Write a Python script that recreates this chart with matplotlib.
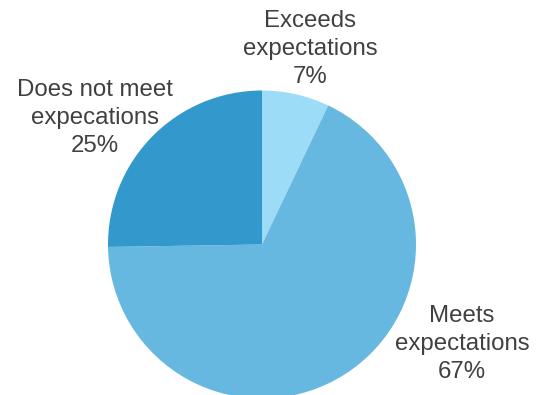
import matplotlib
matplotlib.use("Agg")
import matplotlib.pyplot as plt

labels = ["Exceeds\nexpectations", "Meets\nexpectations", "Does not meet\nexpecations"]
values = [7, 67, 25]
colors = ["#9ddcf7", "#66b8e0", "#3399cc"]

plt.rcParams["font.family"] = ["Liberation Sans", "DejaVu Sans"]

fig = plt.figure(figsize=(5.39, 3.95), dpi=100)
ax = fig.add_axes([0, 0, 1, 1])

ax.pie(values, colors=colors, startangle=90, counterclock=False,
       center=(262, 150.5), radius=154, frame=True,
       wedgeprops=dict(linewidth=0))

# label positions in pixel coords (y up)
label_pos = [(310, 346), (462, 51), (95, 277)]
for lab, v, (x, y) in zip(labels, values, label_pos):
    ax.text(x, y, f"{lab}\n{v}%", ha="center", va="center",
            fontsize=17.3, color="#404040", linespacing=1.37)

ax.set_xlim(0, 539)
ax.set_ylim(0, 395)
ax.axis("off")

fig.savefig("out.png", dpi=100)
